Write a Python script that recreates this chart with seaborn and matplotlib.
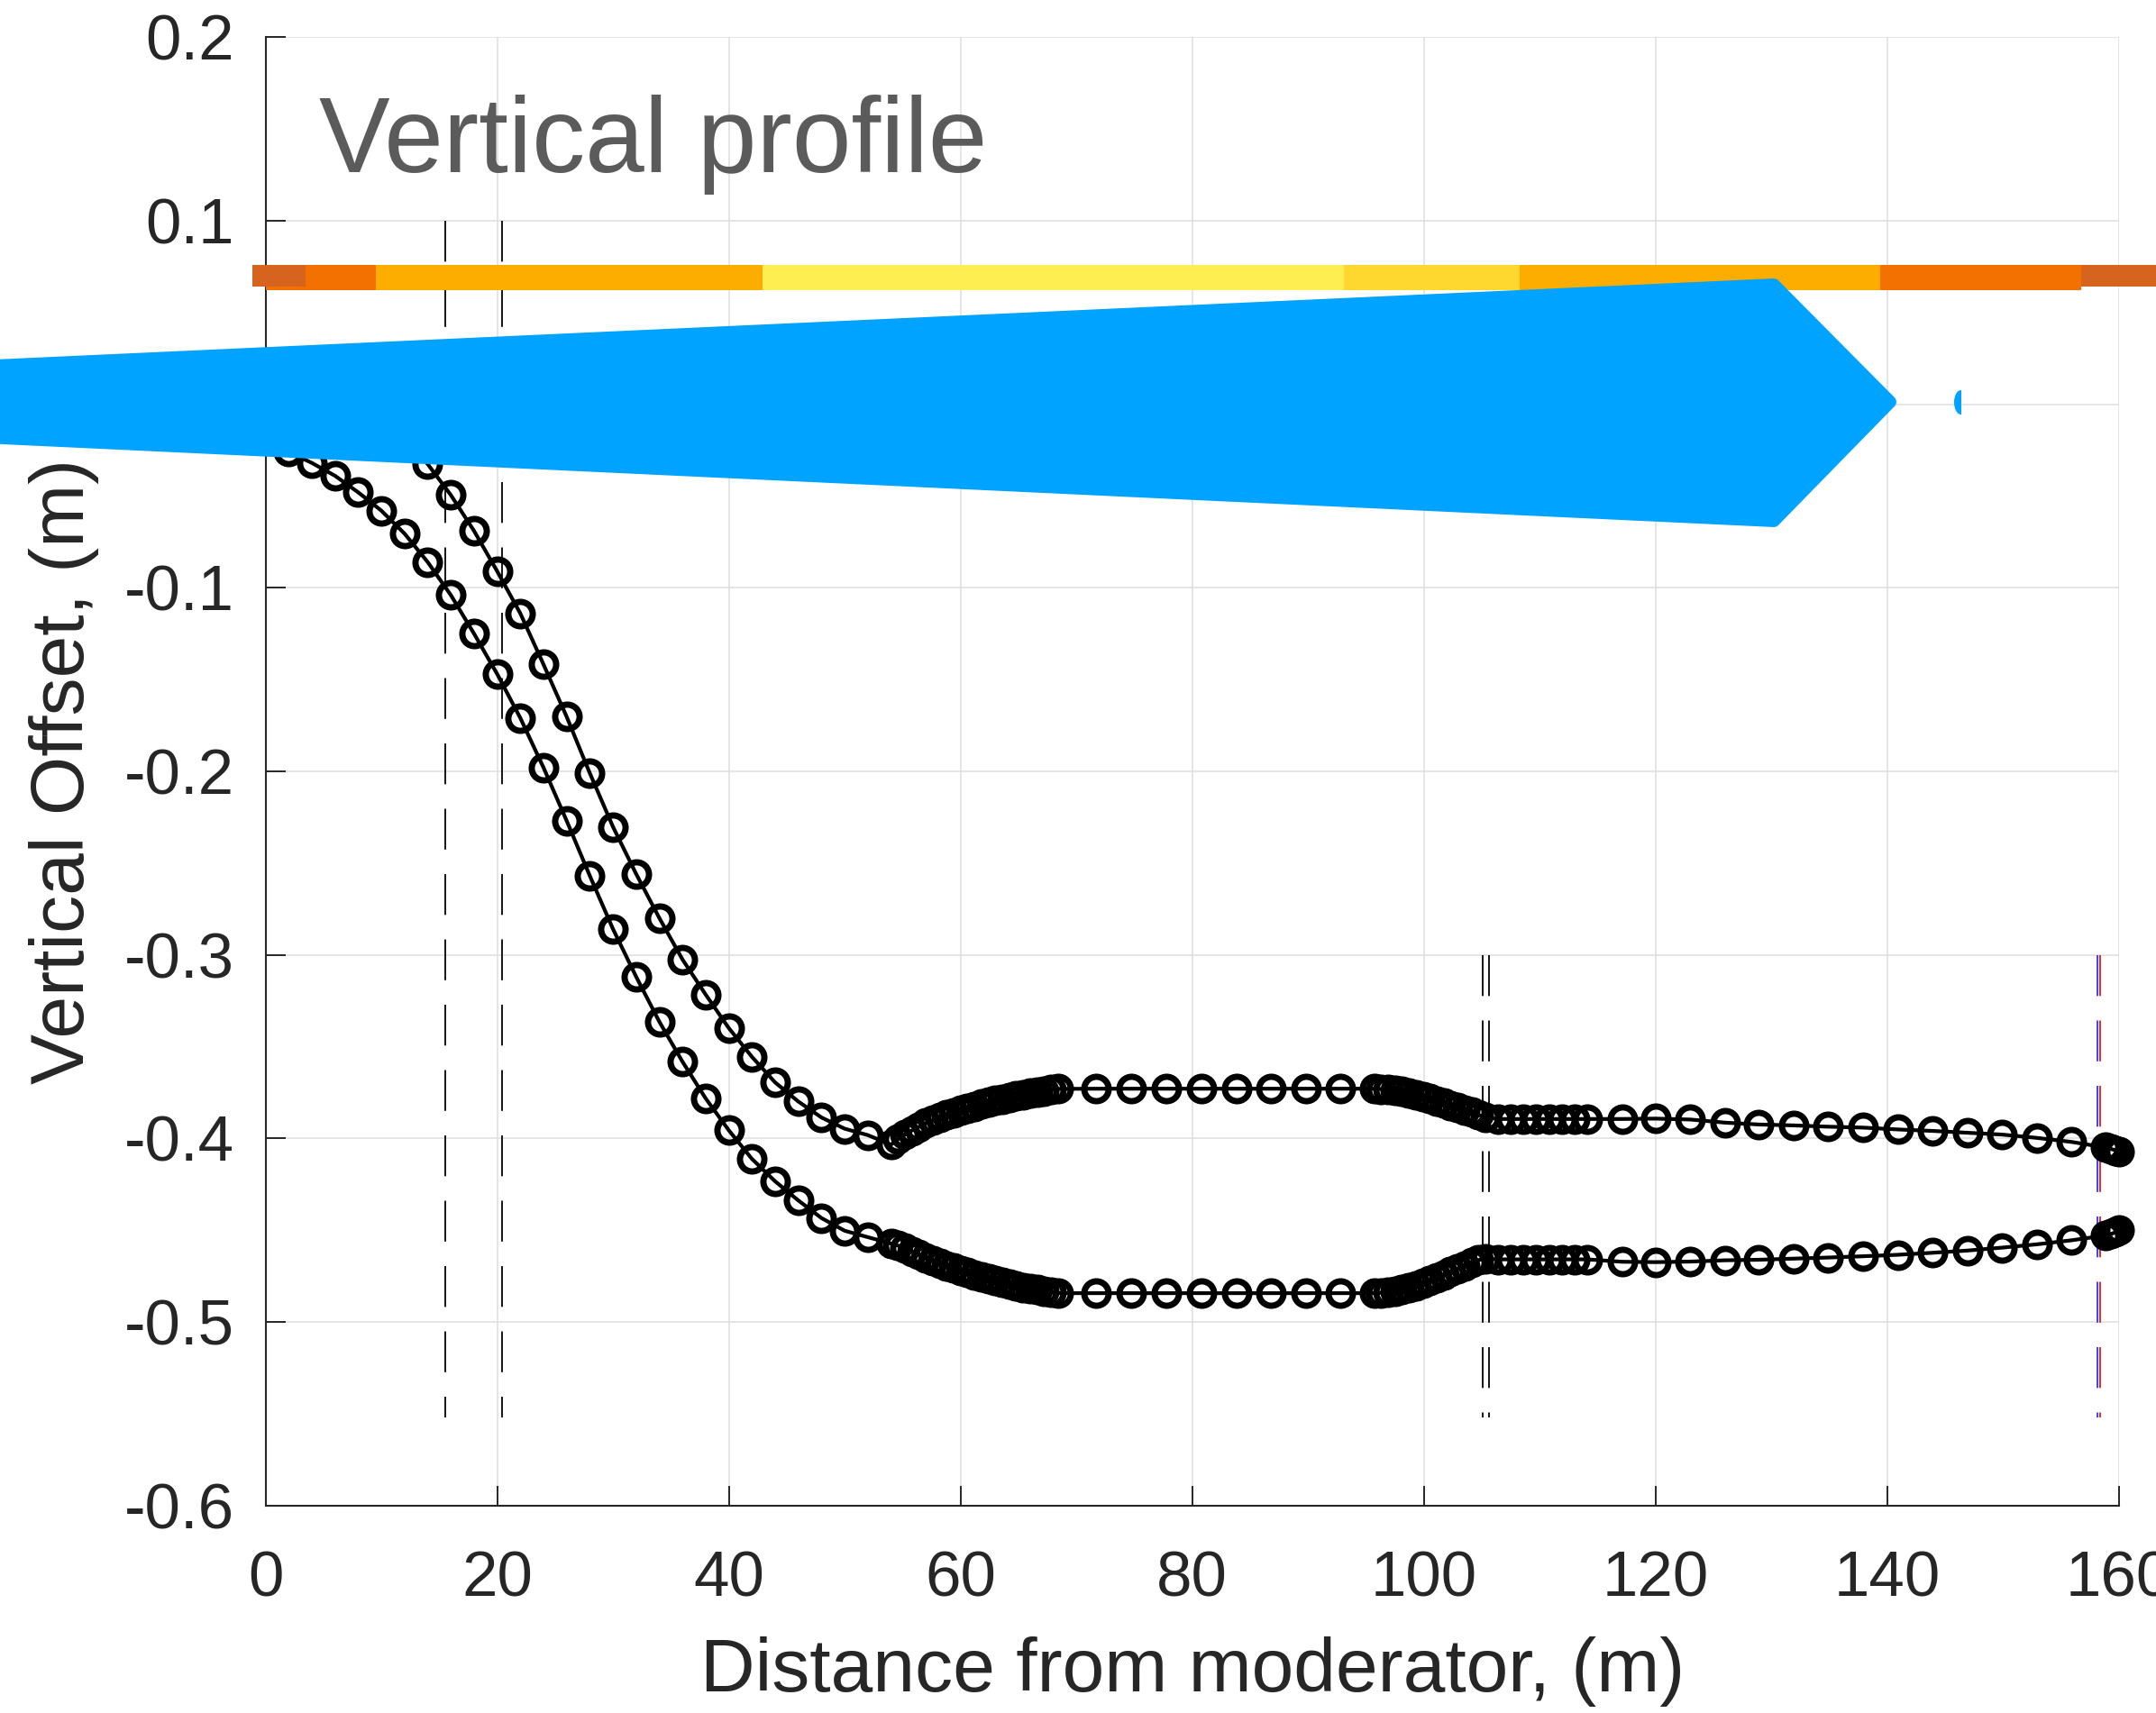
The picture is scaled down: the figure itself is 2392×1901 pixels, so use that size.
import numpy as np
import pandas as pd
import matplotlib
matplotlib.use("Agg")
import matplotlib.pyplot as plt
import matplotlib.transforms as mtransforms
from matplotlib.patches import Polygon, Ellipse, Rectangle
import seaborn as sns

# ---------------------------------------------------------------------------
# Guide wall profile: element positions along the beamline (m)
# ---------------------------------------------------------------------------
x_pos = [
    0, 2, 4, 6, 8, 10, 12, 14, 16, 18, 20, 22, 24, 26, 28, 30, 32, 34, 36, 38,
    40, 42, 44, 46, 48, 50, 52, 54,
    54.6, 55.2, 55.8, 56.4, 57.0, 57.6, 58.2, 58.8, 59.4, 60.0, 60.6, 61.2,
    61.8, 62.4, 63.0, 63.6, 64.2, 64.8, 65.4, 66.0, 66.6, 67.2, 67.8, 68.4,
    71.7, 74.7, 77.8, 80.8, 83.8, 86.8, 89.8, 92.8, 95.7,
    96.3, 96.9, 97.5, 98.1, 98.7, 99.3, 99.9, 100.5, 101.1, 101.7, 102.3,
    102.9, 103.5, 104.1, 104.7, 105.3,
    106.4, 107.5, 108.6, 109.7, 110.8, 111.9, 113.0, 114.1,
    117.1, 120.0, 123.0, 126.0, 128.9, 131.9, 134.9, 137.9, 140.9, 143.9,
    146.9, 149.9, 152.9, 155.9,
    158.8, 159.3, 159.7, 160.0,
]

# top wall height (m)
y_top = [
    0.018, 0.015, 0.011, 0.006, 0.000, -0.008, -0.019, -0.0326, -0.0495,
    -0.069, -0.091, -0.114, -0.1418, -0.1703, -0.2011, -0.2303, -0.256,
    -0.280, -0.3026, -0.3217, -0.340, -0.3557, -0.3696, -0.380, -0.3887,
    -0.3948, -0.3983, -0.4035,
    -0.4005, -0.3980, -0.3958, -0.3938, -0.3918, -0.3902, -0.3887, -0.3873,
    -0.3860, -0.3848, -0.3836, -0.3825, -0.3814, -0.3804, -0.3795, -0.3786,
    -0.3778, -0.3770, -0.3762, -0.3755, -0.3748, -0.3742, -0.3736, -0.3731,
    -0.373, -0.373, -0.373, -0.373, -0.373, -0.373, -0.373, -0.373, -0.373,
    -0.3732, -0.3735, -0.3739, -0.3746, -0.3754, -0.3763, -0.3774, -0.3785,
    -0.3796, -0.3808, -0.3820, -0.3832, -0.3845, -0.3858, -0.3872, -0.3886,
    -0.3895, -0.3895, -0.3895, -0.3895, -0.3895, -0.3895, -0.3895, -0.3895,
    -0.3895, -0.3893, -0.3898, -0.3915, -0.3925, -0.3930, -0.3937, -0.3942,
    -0.3952, -0.3960, -0.3970, -0.3980, -0.3998, -0.4020,
    -0.4050, -0.4058, -0.4066, -0.4075,
]

# bottom wall height (m)
y_bottom = [
    -0.019, -0.026, -0.032, -0.039, -0.048, -0.058, -0.0705, -0.086, -0.104,
    -0.125, -0.147, -0.171, -0.198, -0.227, -0.257, -0.286, -0.312, -0.3365,
    -0.3583, -0.3783, -0.3957, -0.4113, -0.4235, -0.4339, -0.4435, -0.4504,
    -0.4539, -0.4574,
    -0.4585, -0.4600, -0.4617, -0.4634, -0.4650, -0.4665, -0.4680, -0.4694,
    -0.4707, -0.4720, -0.4733, -0.4745, -0.4756, -0.4767, -0.4777, -0.4786,
    -0.4795, -0.4804, -0.4812, -0.4819, -0.4826, -0.4833, -0.4839, -0.4844,
    -0.4844, -0.4844, -0.4844, -0.4844, -0.4844, -0.4844, -0.4844, -0.4844,
    -0.4844,
    -0.4842, -0.4838, -0.4832, -0.4824, -0.4814, -0.4802, -0.4789, -0.4776,
    -0.4761, -0.4745, -0.4728, -0.4711, -0.4694, -0.4677, -0.4664, -0.4656,
    -0.4660, -0.4660, -0.4660, -0.4660, -0.4660, -0.4660, -0.4660, -0.4660,
    -0.4673, -0.4675, -0.4672, -0.4665, -0.4662, -0.4656, -0.4650, -0.4643,
    -0.4635, -0.4624, -0.4612, -0.4596, -0.4578, -0.4556,
    -0.4530, -0.4522, -0.4512, -0.4500,
]

# Section boundaries (m) along the beamline and their colour code
section_edges = [-1.1, 3.5, 9.5, 42.9, 93.1, 108.3, 139.4, 156.7, 163.5]
section_colors = ["#D6641E", "#F27100", "#FDAD00", "#FFEE52",
                  "#FFD82F", "#FDAD00", "#F27100", "#D6641E"]
section_level = 0.069

# Component markers (m): position, top end, colour
marker_x = [15.5, 20.4, 105.1, 105.6, 158.1, 158.4]
marker_top = [0.1, 0.1, -0.3, -0.3, -0.3, -0.3]
marker_bottom = -0.552
marker_colors = ["#1a1a1a", "#1a1a1a", "#1a1a1a", "#1a1a1a", "#4646f0", "#e0303a"]

x_ticks = [0, 20, 40, 60, 80, 100, 120, 140, 160]
x_tick_labels = ["0", "20", "40", "60", "80", "100", "120", "140", "160"]
y_ticks = [-0.6, -0.5, -0.4, -0.3, -0.2, -0.1, 0.0, 0.1, 0.2]
y_tick_labels = ["-0.6", "-0.5", "-0.4", "-0.3", "-0.2", "-0.1", "0", "0.1", "0.2"]

# ---------------------------------------------------------------------------
W_PX, H_PX, DPI = 2392, 1901, 100
INK = "#262626"
DARK_END = "#D6641E"

sns.set_style("ticks")
plt.rcParams["font.family"] = ["Liberation Sans", "DejaVu Sans"]

fig = plt.figure(figsize=(W_PX / DPI, H_PX / DPI), dpi=DPI)
ax = fig.add_axes([294.5 / W_PX, 1 - 1670.5 / H_PX,
                   (2351 - 294.5) / W_PX, (1670.5 - 41.2) / H_PX])

profile = pd.DataFrame({
    "x": x_pos + x_pos,
    "y": y_top + y_bottom,
    "wall": ["top"] * len(x_pos) + ["bottom"] * len(x_pos),
})

sns.lineplot(
    data=profile, x="x", y="y", units="wall", estimator=None, ax=ax,
    color="black", marker="o", markerfacecolor="none",
    markeredgecolor="black", zorder=4,
)
# open circles joined by a solid line
for line in ax.get_lines():
    line.set_linewidth(3.0)
    line.set_markersize(19.5)
    line.set_markeredgewidth(5.0)
    line.set_markerfacecolor("none")
    line.set_markeredgecolor("black")
    line.set_clip_on(False)

# component markers as dashed verticals
for xv, yt, c in zip(marker_x, marker_top, marker_colors):
    ax.plot([xv, xv], [yt, marker_bottom], color=c, lw=1.45,
            linestyle=(0, (22.5, 13.5)), zorder=3)

# colour-coded section strip
band_h = 0.0140
under = ax.barh(section_level, width=3.5, left=0.0, height=band_h,
                color=section_colors[1], linewidth=0, zorder=5)
for p in under.patches:
    p.set_clip_on(False)
for i, c in enumerate(section_colors):
    lo, hi = section_edges[i], section_edges[i + 1]
    if c == DARK_END:
        h = band_h * 0.86
        yc = section_level + (band_h - h) / 2
    else:
        h = band_h
        yc = section_level
    bars = ax.barh(yc, width=hi - lo, left=lo, height=h, color=c,
                   linewidth=0, zorder=6)
    for p in bars.patches:
        p.set_clip_on(False)

ax.set_xlim(0, 160)
ax.set_ylim(-0.6, 0.2)
ax.set_xticks(x_ticks)
ax.set_xticklabels(x_tick_labels)
ax.set_yticks(y_ticks)
ax.set_yticklabels(y_tick_labels)

ax.grid(True, color="#dedede", linewidth=1.1)
ax.set_axisbelow(True)
for side in ["top", "right"]:
    ax.spines[side].set_visible(False)
for side in ["left", "bottom"]:
    ax.spines[side].set_color(INK)
    ax.spines[side].set_linewidth(1.5)
    ax.spines[side].set_zorder(2.5)

ax.tick_params(axis="both", direction="in", length=15.8, width=1.4,
               color=INK, labelcolor=INK, labelsize=51)
ax.tick_params(axis="y", pad=25)
ax.tick_params(axis="x", pad=36)

ax.set_xlabel("Distance from moderator, (m)", fontsize=60.5, color=INK)
ax.set_ylabel("Vertical Offset, (m)", fontsize=60.5, color=INK)
ax.xaxis.set_label_coords(0.5, -0.0895)
ax.yaxis.set_label_coords(-0.0897, 0.5)

ax.text(4.63, 0.1266, "Vertical profile", fontsize=85, color="#5b5b5b",
        ha="left", va="baseline", zorder=7)

# overlay arrow, laid out in pixels measured from the top-left corner
px = mtransforms.Affine2D().scale(1 / W_PX, -1 / H_PX).translate(0, 1) + fig.transFigure
ARROW_BLUE = "#00A3FF"
arrow_outline = [(-30, 407.0), (1968, 316), (2097, 446), (1968, 578), (-30, 484.5)]
arrow = Polygon(arrow_outline, closed=True, transform=px, facecolor=ARROW_BLUE,
                edgecolor=ARROW_BLUE, linewidth=10, joinstyle="round",
                zorder=20, clip_on=False)
fig.add_artist(arrow)

sliver = Ellipse((2175.5, 446.5), 15, 27, transform=px, facecolor=ARROW_BLUE,
                 edgecolor="none", zorder=20)
clip_rect = Rectangle((2160, 430), 15.5, 35, transform=px)
fig.add_artist(sliver)
sliver.set_clip_path(clip_rect)

fig.savefig("out.png", dpi=DPI)
